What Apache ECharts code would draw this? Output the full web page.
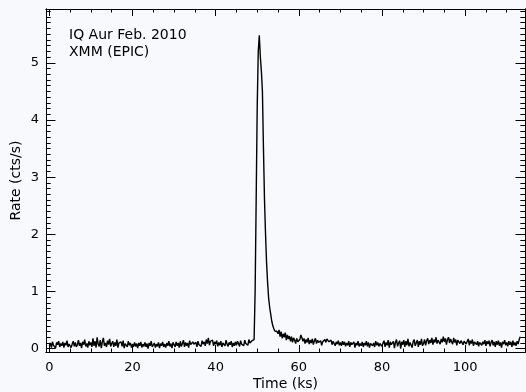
<!DOCTYPE html>
<html>
<head>
<meta charset="utf-8">
<script src="https://cdn.jsdelivr.net/npm/echarts@6/dist/echarts.min.js"></script>
<style>
  html, body { margin: 0; padding: 0; background: #f8f9fd; }
  #chart { width: 526px; height: 392px; }
</style>
</head>
<body>
<div id="chart"></div>
<script>
// light curve, 0.25 ks bins starting at t = 0
const binStart = 0;
const binSize = 0.25;
const rates = [
  0.05,0.10,0.02,0.12,0.06,0.09,0.01,0.11,0.07,0.13,0.03,0.09,0.05,0.12,0.02,0.10,0.06,0.14,0.03,0.08,
  0.10,0.02,0.08,0.13,0.04,0.11,0.03,0.07,0.15,0.05,0.10,0.01,0.12,0.07,0.16,0.04,0.09,0.02,0.13,0.06,
  0.11,0.03,0.18,0.05,0.13,0.02,0.20,0.08,0.04,0.15,0.01,0.12,0.19,0.05,0.10,0.03,0.14,0.07,0.17,0.04,
  0.09,0.13,0.03,0.11,0.05,0.16,0.02,0.10,0.07,0.12,0.04,0.14,0.01,0.09,0.11,0.03,0.13,0.06,0.10,0.02,
  0.08,0.03,0.11,0.04,0.09,0.01,0.10,0.05,0.12,0.02,0.08,0.04,0.11,0.03,0.09,0.00,0.10,0.05,0.13,0.03,
  0.06,0.10,0.02,0.08,0.04,0.11,0.01,0.09,0.05,0.12,0.03,0.08,0.02,0.10,0.05,0.13,0.04,0.09,0.01,0.11,
  0.07,0.03,0.12,0.05,0.10,0.02,0.13,0.04,0.09,0.15,0.03,0.11,0.05,0.10,0.02,0.14,0.07,0.04,0.12,0.08,
  0.05,0.11,0.03,0.13,0.07,0.10,0.04,0.14,0.08,0.12,0.05,0.16,0.09,0.19,0.06,0.13,0.10,0.15,0.05,0.12,
  0.08,0.14,0.04,0.11,0.06,0.13,0.03,0.10,0.12,0.05,0.15,0.08,0.04,0.11,0.07,0.13,0.03,0.10,0.05,0.12,
  0.06,0.13,0.09,0.04,0.14,0.08,0.11,0.05,0.15,0.09,0.12,0.06,0.16,0.10,0.07,0.14,0.11,0.16,1.02,2.62,
  4.25,5.20,5.48,5.10,4.85,4.50,3.50,2.60,2.00,1.50,1.15,0.88,0.72,0.60,0.48,0.40,0.35,0.31,0.28,0.30,
  0.26,0.33,0.21,0.30,0.18,0.26,0.20,0.28,0.15,0.24,0.17,0.22,0.13,0.21,0.11,0.19,0.15,0.09,0.18,0.12,
  0.10,0.16,0.24,0.19,0.13,0.18,0.09,0.16,0.11,0.19,0.08,0.15,0.10,0.17,0.07,0.14,0.18,0.09,0.15,0.11,
  0.08,0.14,0.06,0.12,0.09,0.16,0.11,0.17,0.19,0.12,0.10,0.15,0.07,0.13,0.09,0.05,0.12,0.08,0.14,0.06,
  0.11,0.05,0.13,0.07,0.12,0.04,0.10,0.06,0.13,0.03,0.11,0.07,0.05,0.12,0.02,0.10,0.06,0.13,0.04,0.09,
  0.05,0.12,0.03,0.10,0.06,0.13,0.04,0.11,0.02,0.09,0.12,0.05,0.10,0.03,0.13,0.06,0.11,0.04,0.09,0.12,
  0.04,0.10,0.14,0.03,0.11,0.06,0.15,0.02,0.12,0.07,0.05,0.13,0.01,0.11,0.16,0.04,0.10,0.14,0.00,0.12,
  0.07,0.15,0.03,0.13,0.06,0.17,0.04,0.11,0.14,0.02,0.12,0.16,0.05,0.10,0.15,0.03,0.13,0.07,0.17,0.05,
  0.09,0.16,0.06,0.14,0.18,0.08,0.15,0.10,0.19,0.07,0.16,0.11,0.20,0.09,0.15,0.18,0.08,0.17,0.11,0.21,
  0.12,0.18,0.07,0.16,0.20,0.10,0.17,0.12,0.08,0.19,0.11,0.16,0.06,0.15,0.18,0.09,0.14,0.17,0.07,0.13,
  0.15,0.08,0.13,0.17,0.06,0.14,0.09,0.16,0.05,0.12,0.15,0.07,0.13,0.04,0.11,0.14,0.06,0.12,0.08,0.15,
  0.05,0.13,0.08,0.14,0.04,0.11,0.15,0.06,0.12,0.03,0.13,0.07,0.14,0.05,0.11,0.02,0.12,0.08,0.15,0.06,
  0.11,0.04,0.13,0.07,0.12,0.03,0.14,0.06,0.11,0.05,0.13,0.08,0.16,0.21
];

const xMajorTicks = [0, 20, 40, 60, 80, 100];
const xMinorTicks = [5, 10, 15, 25, 30, 35, 45, 50, 55, 65, 70, 75, 85, 90, 95, 105, 110];
const yMajorTicks = [0, 1, 2, 3, 4, 5];
const titleLines = ['IQ Aur Feb. 2010', 'XMM (EPIC)'];

const xRange = [-0.8, 114.4];
const yRange = [-0.058, 5.94];

let yMinorTicks = [];
for (let k = 1; k < 60; k++) {
    if (k % 10 !== 0) yMinorTicks.push(k / 10);
}

let points = [];
for (let i = 0; i < rates.length; i++) {
    points.push([binStart + i * binSize, rates[i]]);
}

const font = 'DejaVu Sans';
const ink = '#000';

function xAxisDef(position, ticks, len, withLabels) {
    return {
        type: 'value',
        position: position,
        min: xRange[0],
        max: xRange[1],
        axisLine: { show: true, onZero: false, lineStyle: { color: ink, width: 1 } },
        axisTick: { show: true, inside: true, length: len, customValues: ticks, lineStyle: { color: ink } },
        axisLabel: withLabels
            ? { show: true, customValues: ticks, color: ink, fontFamily: font, fontSize: 13, margin: 9 }
            : { show: false },
        splitLine: { show: false }
    };
}

function yAxisDef(position, ticks, len, withLabels) {
    return {
        type: 'value',
        position: position,
        min: yRange[0],
        max: yRange[1],
        axisLine: { show: true, onZero: false, lineStyle: { color: ink, width: 1 } },
        axisTick: { show: true, inside: true, length: len, customValues: ticks, lineStyle: { color: ink } },
        axisLabel: withLabels
            ? { show: true, customValues: ticks, color: ink, fontFamily: font, fontSize: 13, margin: 7 }
            : { show: false },
        splitLine: { show: false }
    };
}

const chart = echarts.init(document.getElementById('chart'));

let xAxes = [
    xAxisDef('bottom', xMajorTicks, 7, true),
    xAxisDef('bottom', xMinorTicks, 3.5, false),
    xAxisDef('top', xMajorTicks, 7, false),
    xAxisDef('top', xMinorTicks, 3.5, false)
];
xAxes[0].name = 'Time (ks)';
xAxes[0].nameLocation = 'middle';
xAxes[0].nameGap = 25;
xAxes[0].nameMoveOverlap = false;
xAxes[0].nameTextStyle = { color: ink, fontFamily: font, fontSize: 14 };

let yAxes = [
    yAxisDef('left', yMajorTicks, 9.5, true),
    yAxisDef('left', yMinorTicks, 4.7, false),
    yAxisDef('right', yMajorTicks, 9.5, false),
    yAxisDef('right', yMinorTicks, 4.7, false)
];
yAxes[0].name = 'Rate (cts/s)';
yAxes[0].nameLocation = 'middle';
yAxes[0].nameGap = 23;
yAxes[0].nameMoveOverlap = false;
yAxes[0].nameTextStyle = { color: ink, fontFamily: font, fontSize: 14 };

const option = {
    backgroundColor: '#f8f9fd',
    animation: false,
    grid: { left: 46, right: 1, top: 9, bottom: 40, outerBoundsMode: 'none' },
    xAxis: xAxes,
    yAxis: yAxes,
    graphic: [
        {
            type: 'text', left: 69, top: 28,
            style: { text: titleLines[0], fill: ink, font: '14px "DejaVu Sans"' }
        },
        {
            type: 'text', left: 69, top: 45.5,
            style: { text: titleLines[1], fill: ink, font: '14px "DejaVu Sans"' }
        }
    ],
    series: [
        {
            type: 'line',
            xAxisIndex: 0,
            yAxisIndex: 0,
            data: points,
            showSymbol: false,
            symbol: 'none',
            lineStyle: { color: ink, width: 1.4 },
            silent: true
        }
    ]
};

chart.setOption(option);
</script>
</body>
</html>
